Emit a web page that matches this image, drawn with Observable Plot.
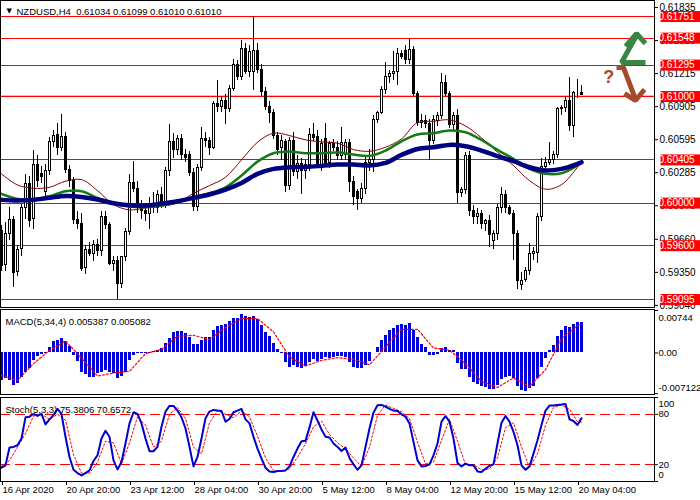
<!DOCTYPE html>
<html><head><meta charset="utf-8">
<script src="https://cdn.jsdelivr.net/npm/d3@7"></script>
<script src="https://cdn.jsdelivr.net/npm/@observablehq/plot@0.6"></script>
<style>
body{margin:0;background:#fff;}
#wrap{position:relative;width:700px;height:500px;overflow:hidden;background:#fff;}
#wrap svg{position:absolute;left:0;}
</style></head><body><div id="wrap"></div>
<script>
// ---------- DATA ----------
const titleText = "NZDUSD,H4\u00a0\u00a00.61034 0.61099 0.61010 0.61010";
const macdTitle = "MACD(5,34,4) 0.005387 0.005082";
const stochTitle = "Stoch(5,3,3) 75.3806 70.6572";

const opens = [0.5974,0.5942,0.5971,0.5984,0.5935,0.5957,0.5995,0.6018,0.5985,0.6036,
0.6027,0.6010,0.6030,0.6057,0.6064,0.6052,0.6062,0.6031,0.6021,0.5984,
0.5980,0.5939,0.5956,0.5952,0.5961,0.5955,0.5987,0.5979,0.5943,0.5946,
0.5924,0.5949,0.5973,0.6019,0.6013,0.5996,0.5993,0.5990,0.5999,0.5995,
0.6008,0.6000,0.6030,0.6057,0.6050,0.6060,0.6045,0.6045,0.6028,0.5996,
0.6033,0.6060,0.6058,0.6052,0.6093,0.6090,0.6096,0.6088,0.6107,0.6130,
0.6118,0.6145,0.6123,0.6123,0.6143,0.6125,0.6104,0.6090,0.6085,0.6063,
0.6052,0.6057,0.6016,0.6058,0.6029,0.6037,0.6030,0.6036,0.6064,0.6062,
0.6035,0.6060,0.6038,0.6055,0.6052,0.6044,0.6045,0.6056,0.6020,0.6010,
0.6004,0.6013,0.6038,0.6040,0.6078,0.6085,0.6106,0.6118,0.6121,0.6123,
0.6140,0.6143,0.6134,0.6144,0.6102,0.6075,0.6077,0.6074,0.6058,0.6077,
0.6082,0.6113,0.6102,0.6073,0.6082,0.6009,0.6012,0.6044,0.5993,0.5987,
0.5990,0.5980,0.5983,0.5964,0.5971,0.5995,0.6008,0.5995,0.5990,0.5971,
0.5923,0.5928,0.5936,0.5952,0.5953,0.5987,0.6034,0.6038,0.6040,0.6045,
0.6088,0.6089,0.6096,0.6072,0.6103,0.61034];
const highs = [0.5979,0.5982,0.5996,0.5987,0.5960,0.5999,0.6027,0.6025,0.6049,0.6045,
0.6034,0.6036,0.6062,0.6068,0.6075,0.6083,0.6066,0.6035,0.6024,0.5992,
0.5990,0.5960,0.5963,0.5965,0.5966,0.5992,0.5992,0.5982,0.5950,0.5950,
0.5950,0.5976,0.6027,0.6039,0.6020,0.6002,0.5998,0.6005,0.6010,0.6012,
0.6015,0.6033,0.6074,0.6065,0.6063,0.6064,0.6050,0.6048,0.6032,0.6036,
0.6071,0.6066,0.6062,0.6095,0.6115,0.6100,0.6102,0.6110,0.6135,0.6134,
0.6153,0.6150,0.6148,0.61751,0.6150,0.6130,0.6108,0.6095,0.6088,0.6066,
0.6063,0.6060,0.6062,0.6066,0.6045,0.6042,0.6040,0.6070,0.6075,0.6068,
0.6060,0.6075,0.6058,0.6060,0.6058,0.6071,0.6060,0.6060,0.6025,0.6013,
0.6018,0.6043,0.6050,0.6082,0.6086,0.6109,0.6132,0.6124,0.6142,0.6145,
0.6143,0.6148,0.6154,0.6147,0.6105,0.6083,0.6082,0.6078,0.6082,0.6085,
0.6122,0.6120,0.6105,0.6085,0.6088,0.6015,0.6047,0.6048,0.5998,0.5995,
0.5993,0.5985,0.5988,0.5974,0.5999,0.6015,0.6012,0.5998,0.5993,0.5974,
0.5935,0.5940,0.5962,0.5958,0.5990,0.6042,0.6043,0.6057,0.6048,0.6090,
0.6092,0.6100,0.6118,0.6105,0.6116,0.61099];
const lows = [0.5936,0.5936,0.5965,0.5921,0.5931,0.5950,0.5985,0.5977,0.5975,0.6015,
0.6018,0.6005,0.6026,0.6052,0.6045,0.6048,0.6028,0.6015,0.5980,0.5975,
0.5936,0.5933,0.5950,0.5945,0.5950,0.5950,0.5975,0.5941,0.5936,0.59095,
0.5920,0.5945,0.5970,0.6010,0.5990,0.5985,0.5983,0.5975,0.5990,0.5990,
0.5995,0.5995,0.6025,0.6042,0.6045,0.6040,0.6038,0.6025,0.5992,0.5992,
0.6030,0.6052,0.6045,0.6050,0.6085,0.6085,0.6074,0.6085,0.6105,0.6115,
0.6115,0.6121,0.6118,0.6106,0.6122,0.6100,0.6087,0.6075,0.6060,0.6045,
0.6040,0.6010,0.6012,0.6025,0.6022,0.6008,0.6022,0.6030,0.6058,0.6032,
0.6030,0.6033,0.6032,0.6048,0.6040,0.6040,0.6040,0.6010,0.5998,0.5993,
0.6000,0.6008,0.6030,0.6029,0.6075,0.6083,0.6102,0.6112,0.6115,0.6110,
0.6135,0.6130,0.6130,0.6100,0.6072,0.6070,0.6070,0.6040,0.6055,0.6072,
0.6078,0.6100,0.6070,0.6068,0.6000,0.6005,0.6008,0.5987,0.5980,0.5980,
0.5975,0.5973,0.5958,0.5956,0.5965,0.5990,0.5990,0.5988,0.5946,0.5919,
0.5918,0.5925,0.5932,0.5946,0.5943,0.5983,0.6030,0.6035,0.6036,0.6042,
0.6082,0.6085,0.6067,0.6062,0.6098,0.61010];
const closes = [0.5941,0.5971,0.5984,0.5934,0.5956,0.5995,0.6018,0.5983,0.6036,0.6021,
0.6024,0.6030,0.6057,0.6063,0.6052,0.6062,0.6031,0.6021,0.5984,0.5980,
0.5938,0.5956,0.5952,0.5961,0.5955,0.5987,0.5979,0.5943,0.5946,0.5924,
0.5949,0.5973,0.6019,0.6013,0.5996,0.5993,0.5990,0.5999,0.5995,0.6008,
0.6000,0.6030,0.6057,0.6050,0.6060,0.6045,0.6042,0.6028,0.5996,0.6033,
0.6060,0.6058,0.6052,0.6093,0.6090,0.6096,0.6088,0.6107,0.6130,0.6118,
0.6145,0.6123,0.6142,0.6143,0.6125,0.6104,0.6090,0.6085,0.6063,0.6050,
0.6058,0.6016,0.6058,0.6029,0.6037,0.6030,0.6036,0.6064,0.6061,0.6035,
0.6055,0.6038,0.6055,0.6052,0.6044,0.6056,0.6056,0.6020,0.6006,0.6004,
0.6013,0.6038,0.6040,0.6078,0.6085,0.6106,0.6118,0.6121,0.6123,0.6140,
0.6137,0.6134,0.6144,0.6102,0.6075,0.6077,0.6074,0.6058,0.6078,0.6082,
0.6113,0.6102,0.6073,0.6082,0.6009,0.6012,0.6044,0.5993,0.5987,0.5990,
0.5980,0.5983,0.5970,0.5971,0.5995,0.6008,0.5995,0.5990,0.5971,0.5927,
0.5927,0.5936,0.5952,0.5954,0.5987,0.6034,0.6038,0.6040,0.6045,0.6088,
0.6089,0.6096,0.6072,0.6103,0.6103,0.61010];

// moving averages, read every 4 bars
const maIdx = [0,4,8,12,16,20,24,28,32,36,40,44,48,52,56,60,64,68,72,76,80,84,88,92,96,100,104,108,112,116,120,124,128,132,136,140,144,145];
const maFast = [0.60274,0.60170,0.60139,0.60148,0.60205,0.60220,0.60117,0.59986,0.59936,0.59955,0.59971,0.60001,0.60092,0.60164,0.60242,0.60405,0.60571,0.60656,0.60634,0.60593,0.60574,0.60562,0.60502,0.60486,0.60524,0.60602,0.60756,0.60768,0.60781,0.60724,0.60612,0.60477,0.60352,0.60211,0.60130,0.60173,0.60336,0.60383];
const maMid = [0.60086,0.60039,0.60039,0.60064,0.60111,0.60111,0.60049,0.60001,0.59967,0.59961,0.59977,0.60008,0.60055,0.60092,0.60148,0.60258,0.60389,0.60468,0.60483,0.60468,0.60468,0.60474,0.60455,0.60443,0.60493,0.60580,0.60643,0.60656,0.60681,0.60665,0.60593,0.60499,0.60415,0.60321,0.60274,0.60280,0.60352,0.60383];
const maSlow = [0.60030,0.60023,0.60030,0.60049,0.60067,0.60058,0.60033,0.59998,0.59980,0.59977,0.59995,0.60017,0.60049,0.60080,0.60126,0.60189,0.60274,0.60321,0.60336,0.60339,0.60349,0.60361,0.60361,0.60352,0.60377,0.60452,0.60508,0.60524,0.60546,0.60533,0.60493,0.60440,0.60393,0.60336,0.60305,0.60321,0.60368,0.60383];

// MACD histogram (one per bar) and signal (every 4 bars)
const macdHist = [-0.00480,-0.00450,-0.00480,-0.00567,-0.00527,-0.00421,-0.00333,-0.00275,-0.00129,-0.00059,
-0.00023,-0.00012,0.00094,0.00205,0.00211,0.00252,0.00193,0.00117,-0.00041,-0.00146,
-0.00333,-0.00374,-0.00421,-0.00421,-0.00363,-0.00333,-0.00304,-0.00333,-0.00363,-0.00450,
-0.00410,-0.00333,-0.00140,-0.00041,-0.00012,-0.00012,-0.00012,-0.00012,0.00018,0.00047,
0.00076,0.00164,0.00252,0.00351,0.00380,0.00374,0.00339,0.00269,0.00152,0.00152,
0.00222,0.00269,0.00269,0.00398,0.00456,0.00486,0.00503,0.00544,0.00603,0.00603,
0.00679,0.00632,0.00614,0.00632,0.00591,0.00486,0.00357,0.00293,0.00170,0.00064,
-0.00012,-0.00170,-0.00246,-0.00216,-0.00246,-0.00263,-0.00228,-0.00158,-0.00111,-0.00146,
-0.00111,-0.00082,-0.00088,-0.00082,-0.00070,-0.00070,-0.00082,-0.00158,-0.00246,-0.00275,
-0.00275,-0.00216,-0.00146,0.00006,0.00099,0.00222,0.00310,0.00398,0.00427,0.00486,
0.00503,0.00486,0.00521,0.00398,0.00263,0.00152,0.00088,-0.00041,-0.00041,-0.00018,
0.00076,0.00099,0.00047,0.00047,-0.00176,-0.00293,-0.00293,-0.00421,-0.00509,-0.00544,
-0.00579,-0.00597,-0.00632,-0.00632,-0.00567,-0.00456,-0.00421,-0.00410,-0.00439,-0.00579,
-0.00649,-0.00667,-0.00614,-0.00585,-0.00439,-0.00252,-0.00088,0.00047,0.00135,0.00293,
0.00398,0.00468,0.00450,0.00503,0.00538,0.005387];
const macdSignal = [-0.00392,-0.00480,-0.00187,0.00047,0.00211,-0.00088,-0.00404,-0.00351,-0.00322,-0.00012,0.00064,0.00293,0.00310,0.00234,0.00445,0.00600,0.00603,0.00369,-0.00070,-0.00228,-0.00129,-0.00082,-0.00111,-0.00205,0.00105,0.00415,0.00415,0.00088,0.00050,-0.00187,-0.00497,-0.00603,-0.00439,-0.00585,-0.00293,0.00252,0.00474,0.005082];

// Stochastic %K (one per bar) and %D (every 2 bars)
const stochK = [16.4,19.2,40.4,41.2,43.2,51.2,76.4,77.2,80.4,78.0,
80.4,68.0,74.0,79.2,86.4,80.4,53.2,29.2,14.0,10.0,
7.2,10.0,13.2,24.4,31.2,51.2,60.4,53.2,25.2,14.4,
23.2,45.2,69.2,82.4,80.4,69.2,51.2,36.0,36.0,41.2,
65.2,83.2,90.0,90.0,84.4,76.4,63.2,41.2,18.0,29.2,
51.2,75.2,83.2,85.2,84.4,84.0,71.2,74.4,82.4,84.4,
86.4,74.0,69.2,53.2,39.2,27.2,16.4,12.0,11.2,12.4,
12.4,13.2,18.0,29.2,39.2,48.0,48.4,64.4,82.4,72.4,
62.0,53.2,52.4,45.2,41.2,36.4,40.4,28.0,20.4,14.0,
19.2,41.2,63.2,82.0,90.8,91.2,89.2,86.4,84.4,84.0,
80.0,77.2,69.2,47.2,25.2,18.0,18.4,20.4,31.2,45.2,
71.2,78.0,71.2,51.2,22.0,18.0,21.2,19.2,19.2,12.0,
11.2,15.2,18.8,20.4,45.2,70.0,78.0,71.2,59.2,43.2,
19.2,14.0,18.0,33.2,49.2,67.2,84.4,90.4,90.4,91.2,
91.6,92.4,74.0,72.0,67.2,75.38];
const stochDIdx = [0,2,4,6,8,10,12,14,16,18,20,22,24,26,28,30,32,34,36,38,40,42,44,46,48,50,52,54,56,58,60,62,64,66,68,70,72,74,76,78,80,82,84,86,88,90,92,94,96,98,100,102,104,106,108,110,112,114,116,118,120,122,124,126,128,130,132,134,136,138,140,142,144,145];
const stochD = [18,25,41,57,78,80,74,80,73,32,10,10,23,48,46,21,46,77,67,41,48,80,88,75,41,33,70,84,80,76,84,77,54,28,13,12,15,29,45,65,72,56,46,39,28,18,41,79,91,87,83,75,47,21,23,49,74,48,20,20,14,15,28,64,70,41,17,33,67,88,91,86,71,70.66];

// levels, ticks, labels
const srLevels = [0.61751,0.61548,0.61295,0.61000,0.60405,0.60000,0.59600,0.59095];
const srLabels = ["0.61751","0.61548","0.61295","0.61000","0.60405","0.60000","0.59600","0.59095"];
const bidPrice = 0.61010;
const priceTicks = [0.61835,0.61525,0.61215,0.60905,0.60595,0.60285,0.59975,0.59660,0.59350,0.59040];
const priceTickLabels = ["0.61835","0.61525","0.61215","0.60905","0.60595","0.60285","0.59975","0.59660","0.59350","0.59040"];
const macdTickVals = [0.00744, 0, -0.007122];
const macdTickLabels = ["0.00744","0.00","-0.007122"];
const stochTickVals = [100, 80, 20, 0];
const stochTickLabels = ["100","80","20","0"];
const stochLevels = [80, 20];
const timeTickIdx = [0,16,32,48,64,80,96,112,128,144];
const timeTickLabels = ["16 Apr 2020","20 Apr 20:00","23 Apr 12:00","28 Apr 04:00","30 Apr 20:00","5 May 12:00","8 May 04:00","12 May 20:00","15 May 12:00","20 May 04:00"];

// forecast arrows (bar index, price)
const arrowUp = [[161,0.61319],[155,0.61319],[158.75,0.61573]];
const arrowUpHead = [[156,0.61470],[158.75,0.61591],[161,0.61498]];
const arrowDown = [[153.75,0.61272],[155.5,0.61272],[158.25,0.61000]];
const arrowDownHead = [[155.75,0.61028],[158.5,0.60963],[160.75,0.61066]];
const questionPos = [[151.8,0.61180]];

// ---------- BUILD ----------
const candles = opens.map((o, i) => ({i, o, h: highs[i], l: lows[i], c: closes[i]}));
const maRows = maIdx.map((i, k) => ({i, fast: maFast[k], mid: maMid[k], slow: maSlow[k]}));
const macdRows = macdHist.map((v, i) => ({i, v}));
const sigRows = maIdx.map((i, k) => ({i, v: macdSignal[k]}));
const kRows = stochK.map((v, i) => ({i, v}));
const dRows = stochDIdx.map((i, k) => ({i, v: stochD[k]}));
const priceTickMap = new Map(priceTicks.map((t, k) => [t, priceTickLabels[k]]));
const timeTickMap = new Map(timeTickIdx.map((t, k) => [t, timeTickLabels[k]]));

const FONT = '"Liberation Sans", Arial, sans-serif';
const xDomain = [-0.25, 163.25];
const W = 700, MR = 46;
const baseStyle = {fontFamily: FONT, fontSize: "10px", background: "transparent", color: "black", overflow: "visible"};

function boxRender(index, scales, values, dims, context, next) {
  const g = next(index, scales, values, dims, context);
  const x0 = dims.width - dims.marginRight + 2;
  for (const i of index) {
    const r = document.createElementNS("http://www.w3.org/2000/svg", "rect");
    r.setAttribute("x", x0);
    r.setAttribute("y", values.y[i] - 5.5);
    r.setAttribute("width", dims.marginRight - 2);
    r.setAttribute("height", 11);
    r.setAttribute("fill", "#ff0000");
    g.insertBefore(r, g.firstChild);
  }
  return g;
}

const crisp = {shapeRendering: "crispEdges"};

const main = Plot.plot({
  width: W, height: 308, marginLeft: 0, marginRight: MR, marginTop: 0, marginBottom: 1,
  style: baseStyle,
  x: {domain: xDomain, axis: null},
  y: {domain: [0.590199, 0.619012]},
  marks: [
    Plot.ruleY([bidPrice], {stroke: "#c8c8c8", ...crisp}),
    Plot.ruleY(srLevels, {stroke: "#ff0000", ...crisp}),
    Plot.ruleX(candles, {x: "i", y1: "l", y2: "h", stroke: "black", ...crisp}),
    Plot.rect(candles, {filter: d => d.c >= d.o, x1: d => d.i - 0.25, x2: d => d.i + 0.25, y1: "o", y2: "c", fill: "white", stroke: "black", ...crisp}),
    Plot.rect(candles, {filter: d => d.c < d.o, x1: d => d.i - 0.25, x2: d => d.i + 0.25, y1: "o", y2: "c", fill: "black", stroke: "black", ...crisp}),
    Plot.line(maRows, {x: "i", y: "fast", stroke: "#800000", strokeWidth: 1, curve: "catmull-rom"}),
    Plot.line(maRows, {x: "i", y: "mid", stroke: "#157a15", strokeWidth: 2.5, curve: "catmull-rom"}),
    Plot.line(maRows, {x: "i", y: "slow", stroke: "#000080", strokeWidth: 4.5, curve: "catmull-rom"}),
    Plot.frame({stroke: "black", ...crisp}),
    Plot.axisY(priceTicks, {anchor: "right", tickSize: 3, tickPadding: 2, tickFormat: d => priceTickMap.get(d), label: null, fontSize: 10}),
    Plot.text(srLevels, {y: d => d, text: (d, i) => srLabels[i], frameAnchor: "right", textAnchor: "start", dx: 4, fill: "white", fontSize: 10, render: boxRender}),
    Plot.line(arrowUp, {stroke: "#3c8444", strokeWidth: 5, strokeLinejoin: "miter", strokeLinecap: "butt"}),
    Plot.line(arrowUpHead, {stroke: "#3c8444", strokeWidth: 5, strokeLinejoin: "miter", strokeLinecap: "butt"}),
    Plot.line(arrowDown, {stroke: "#a44a2c", strokeWidth: 5, strokeLinejoin: "miter", strokeLinecap: "butt"}),
    Plot.line(arrowDownHead, {stroke: "#a44a2c", strokeWidth: 5, strokeLinejoin: "miter", strokeLinecap: "butt"}),
    Plot.text(questionPos, {text: () => "?", fill: "#a44a2c", fontSize: 18, fontWeight: "bold"}),
    Plot.text(["\u25BC"], {frameAnchor: "top-left", dx: 6, dy: 8, fontSize: 7, fontFamily: "DejaVu Sans"}),
    Plot.text([titleText], {frameAnchor: "top-left", textAnchor: "start", dx: 16, dy: 8, fontSize: 9.5})
  ]
});

const macd = Plot.plot({
  width: W, height: 87, marginLeft: 0, marginRight: MR, marginTop: 1, marginBottom: 1,
  style: baseStyle,
  x: {domain: xDomain, axis: null},
  y: {domain: [-0.007263, 0.007613]},
  marks: [
    Plot.rect(macdRows, {x1: d => d.i - 0.375, x2: d => d.i + 0.375, y1: 0, y2: "v", fill: "#0000dd", ...crisp}),
    Plot.line(sigRows, {x: "i", y: "v", stroke: "#ff0000", strokeWidth: 1.2, strokeDasharray: "2,2"}),
    Plot.frame({stroke: "black", ...crisp}),
    Plot.axisY(macdTickVals, {anchor: "right", tickSize: 3, tickFormat: () => "", label: null}),
    ...macdTickVals.map((v, k) => Plot.text([v], {y: d => d, text: () => macdTickLabels[k], frameAnchor: "right", textAnchor: "start", dx: 4, dy: [7, 0, -6][k], fontSize: 9.5})),
    Plot.text([macdTitle], {frameAnchor: "top-left", textAnchor: "start", dx: 5, dy: 9, fontSize: 9.5})
  ]
});

const stoch = Plot.plot({
  width: W, height: 105, marginLeft: 0, marginRight: MR, marginTop: 2, marginBottom: 19,
  style: baseStyle,
  x: {domain: xDomain},
  y: {domain: [0, 100]},
  marks: [
    Plot.ruleY(stochLevels, {stroke: "#ff0000", strokeDasharray: "10,5", ...crisp}),
    Plot.line(dRows, {x: "i", y: "v", stroke: "#ff0000", strokeWidth: 1, strokeDasharray: "2,2"}),
    Plot.line(kRows, {x: "i", y: "v", stroke: "#0000cc", strokeWidth: 2}),
    Plot.frame({stroke: "black", ...crisp}),
    Plot.axisY(stochTickVals, {anchor: "right", tickSize: 3, tickFormat: () => "", label: null}),
    ...stochTickVals.map((v, k) => Plot.text([v], {y: d => d, text: () => stochTickLabels[k], frameAnchor: "right", textAnchor: "start", dx: 4, dy: [6, 0, 0, -7][k], fontSize: 9.5})),
    Plot.axisX(timeTickIdx, {anchor: "bottom", tickSize: 4, tickPadding: 1, tickFormat: d => timeTickMap.get(d), textAnchor: "start", dx: 1, fontSize: 9.5, label: null}),
    Plot.text([stochTitle], {frameAnchor: "top-left", textAnchor: "start", dx: 5, dy: 9, fontSize: 9.5})
  ]
});

const wrap = document.getElementById("wrap");
[[main, 0], [macd, 308], [stoch, 395]].forEach(([svg, top]) => {
  svg.style.top = top + "px";
  wrap.appendChild(svg);
});
</script>
</body></html>
